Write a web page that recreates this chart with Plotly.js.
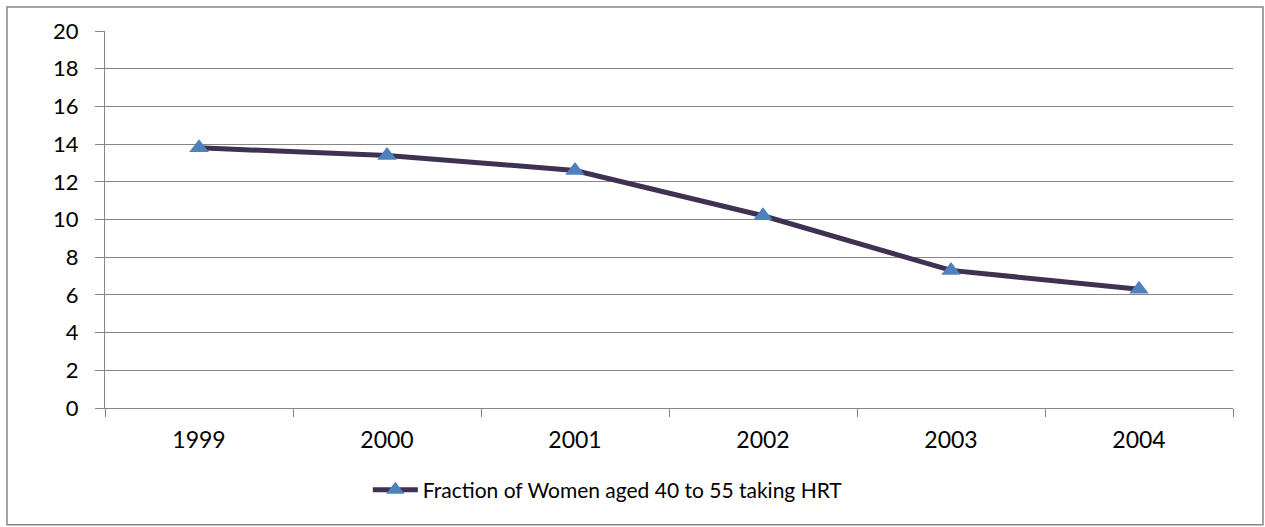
<!DOCTYPE html>
<html>
<head>
<meta charset="utf-8">
<script src="https://cdn.plot.ly/plotly-3.0.1.min.js"></script>
<style>
html,body{margin:0;padding:0;background:#fff;}
#chart{width:1265px;height:527px;}
</style>
</head>
<body>
<div id="chart"></div>
<script>
const years = ["1999", "2000", "2001", "2002", "2003", "2004"];
const hrtFraction = [13.8, 13.4, 12.6, 10.2, 7.3, 6.3];
const seriesName = "Fraction of Women aged 40 to 55 taking HRT";
const yTicks = [0, 2, 4, 6, 8, 10, 12, 14, 16, 18, 20];

const trace = {
  x: years,
  y: hrtFraction,
  name: seriesName,
  type: "scatter",
  mode: "lines+markers",
  line: {color: "#3F3151", width: 5},
  marker: {symbol: "triangle-up", size: 17, color: "#4F81BD"}
};

const layout = {
  width: 1265,
  height: 527,
  margin: {l: 105, r: 32, t: 31, b: 119},
  paper_bgcolor: "#ffffff",
  plot_bgcolor: "#ffffff",
  font: {family: "Lato, 'Open Sans', sans-serif", size: 22, color: "#000000"},
  showlegend: true,
  legend: {
    orientation: "h",
    x: 0.233, xanchor: "left",
    y: -0.2175, yanchor: "middle",
    font: {size: 21, color: "#000000"},
    itemwidth: 45
  },
  xaxis: {
    type: "category",
    range: [-0.5, 5.5],
    tickson: "boundaries",
    ticks: "outside",
    ticklen: 8,
    tickcolor: "#868686",
    tickwidth: 1,
    showline: true,
    linecolor: "#868686",
    linewidth: 1,
    showgrid: false,
    zeroline: false,
    fixedrange: true,
    tickfont: {size: 23},
    ticklabelstandoff: 11
  },
  yaxis: {
    range: [0, 20],
    tickvals: yTicks,
    ticktext: yTicks.map(String),
    ticks: "outside",
    ticklen: 9,
    tickcolor: "#868686",
    tickwidth: 1,
    showline: true,
    linecolor: "#868686",
    linewidth: 1,
    showgrid: true,
    gridcolor: "#868686",
    gridwidth: 1,
    zeroline: false,
    fixedrange: true,
    tickfont: {size: 22},
    ticklabelstandoff: 12
  },
  shapes: [{
    type: "rect",
    xref: "paper", yref: "paper",
    x0: -0.0869, x1: 1.0266,
    y0: -0.31, y1: 1.0637,
    line: {color: "#868686", width: 1.5},
    fillcolor: "rgba(0,0,0,0)",
    layer: "below"
  }]
};

Plotly.newPlot("chart", [trace], layout, {displayModeBar: false, staticPlot: true});
</script>
</body>
</html>
